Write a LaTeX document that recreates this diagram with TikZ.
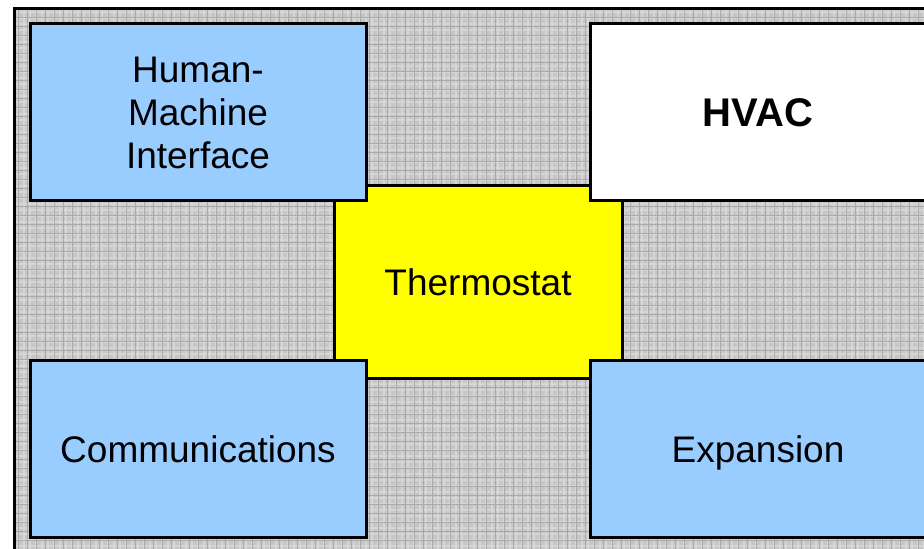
\documentclass[tikz,border=0pt]{standalone}
\usepackage{fontspec}
\setmainfont{Liberation Sans}
\usepackage{tikz}
\usetikzlibrary{positioning}
\definecolor{boxBlue}{HTML}{99CCFF}
\definecolor{thermoYellow}{HTML}{FFFF00}
\definecolor{patBase}{HTML}{C6C6C6}
\definecolor{patLine}{HTML}{AAAAAA}
\definecolor{patLight}{HTML}{D6D6D6}

\begin{document}
\begin{tikzpicture}[
  x=0.5pt, y=0.5pt,
  block/.style={
    rectangle, draw=black, fill=#1, line width=1.5pt,
    minimum width=168pt, minimum height=88.5pt,
    font=\fontsize{18.5}{21.5}\selectfont, align=center, inner sep=0pt,
  },
  oneline/.style={text height=13.3pt, text depth=0pt},
  core/.style={block=thermoYellow, minimum width=144pt, minimum height=96pt},
]
\useasboundingbox (0,0) rectangle (924,-549);
\clip (0,0) rectangle (924,-549);

% Patterned backdrop
\fill[patBase] (14.5,-9) rectangle (941,-553);
\draw[patLight, line width=0.8pt] (14.5,-9) grid[step=3pt] (941,-553);
\draw[patLine, line width=0.5pt] (14.5,-9) grid[step=4.5pt] (941,-553);
\draw[line width=1.5pt] (14.5,-9) rectangle (941,-553);

% Centre
\node[core, oneline] (thermo) at (478,-282) {Thermostat};

% Corner blocks
\node[block=boxBlue] (hmi) at (198,-112.5) {\raisebox{-2pt}{Human-}\\\raisebox{-2pt}{Machine}\\\raisebox{-2pt}{Interface}};
\node[block=white, font=\fontsize{20}{24}\selectfont\bfseries] (hvac) at (758,-112.5) {\raisebox{-1pt}{HVAC}};
\node[block=boxBlue, oneline] (comms) at (198,-449) {Communications};
\node[block=boxBlue, oneline] (expan) at (758,-449) {Expansion};

\end{tikzpicture}
\end{document}
